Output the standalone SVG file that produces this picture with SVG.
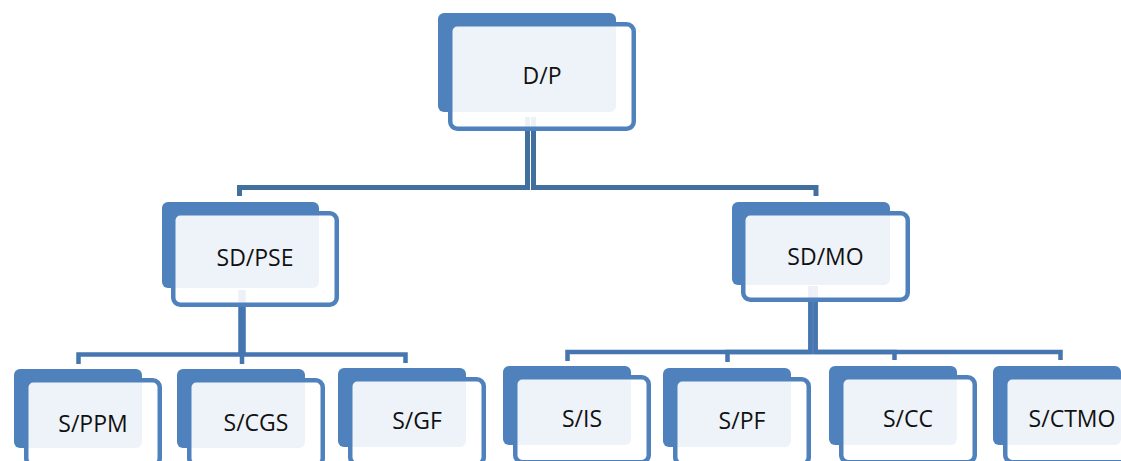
<svg xmlns="http://www.w3.org/2000/svg" width="1121" height="461" viewBox="0 0 1121 461">
<style>
.back{fill:#4F81BD}
.front{fill:#FFFFFF;fill-opacity:0.9;stroke:#4F81BD;stroke-width:4.5}
.lbl{font-family:"Open Sans","Noto Sans",sans-serif;font-size:23px;fill:#111;text-anchor:middle}
.c1{fill:none;stroke:#41709F;stroke-width:5}
.c2{fill:none;stroke:#4676B0;stroke-width:4.5}
</style>
<rect width="1121" height="461" fill="#FFFFFF"/>
<g id="connectors">
<path class="c1" d="M527.5 117 V187.5 H239.5 V196"/>
<path class="c1" d="M533.5 117 V187.5 H816 V196"/>
<path class="c2" d="M240.5 290 V354.5 H78.5 V364"/>
<path class="c2" d="M242 290 V364"/>
<path class="c2" d="M243.5 290 V354.5 H405.5 V363"/>
<path class="c2" d="M810.5 286 V352 H567.5 V361"/>
<path class="c2" d="M810.5 286 V352 H727.5 V362"/>
<path class="c2" d="M815.5 286 V352 H894.5 V360"/>
<path class="c2" d="M815.5 286 V352 H1060.5 V360"/>
</g>
<g id="node-dp">
<rect class="back" x="438" y="13" width="178" height="99" rx="6"/>
<rect class="front" x="450.25" y="24.25" width="183.5" height="104.5" rx="7"/>
<text class="lbl" x="542" y="84">D/P</text>
</g>
<g id="node-sdpse">
<rect class="back" x="162" y="202" width="157" height="86" rx="6"/>
<rect class="front" x="173.25" y="213.25" width="163.5" height="91.5" rx="7"/>
<text class="lbl" x="255" y="266">SD/PSE</text>
</g>
<g id="node-sdmo">
<rect class="back" x="732" y="202" width="158" height="83" rx="6"/>
<rect class="front" x="743.25" y="213.25" width="164.5" height="86.5" rx="7"/>
<text class="lbl" x="825.5" y="265">SD/MO</text>
</g>
<g id="node-sppm">
<rect class="back" x="14" y="369" width="128" height="79" rx="6"/>
<rect class="front" x="26.25" y="380.25" width="133.5" height="85" rx="7"/>
<text class="lbl" x="93" y="432">S/PPM</text>
</g>
<g id="node-scgs">
<rect class="back" x="177" y="369" width="128" height="79" rx="6"/>
<rect class="front" x="189.25" y="380.25" width="133.5" height="85" rx="7"/>
<text class="lbl" x="256" y="431">S/CGS</text>
</g>
<g id="node-sgf">
<rect class="back" x="338" y="368" width="128" height="79" rx="6"/>
<rect class="front" x="350.25" y="379.25" width="133.5" height="85" rx="7"/>
<text class="lbl" x="417" y="429">S/GF</text>
</g>
<g id="node-sis">
<rect class="back" x="503" y="366" width="128" height="79" rx="6"/>
<rect class="front" x="515.25" y="377.25" width="133.5" height="85" rx="7"/>
<text class="lbl" x="582" y="427">S/IS</text>
</g>
<g id="node-spf">
<rect class="back" x="663" y="368" width="128" height="79" rx="6"/>
<rect class="front" x="675.25" y="379.25" width="133.5" height="85" rx="7"/>
<text class="lbl" x="742" y="429">S/PF</text>
</g>
<g id="node-scc">
<rect class="back" x="829" y="366" width="128" height="79" rx="6"/>
<rect class="front" x="841.25" y="377.25" width="133.5" height="85" rx="7"/>
<text class="lbl" x="908" y="427">S/CC</text>
</g>
<g id="node-sctmo">
<rect class="back" x="993" y="366" width="128" height="79" rx="6"/>
<rect class="front" x="1005.25" y="377.25" width="133.5" height="85" rx="7"/>
<text class="lbl" x="1072" y="427">S/CTMO</text>
</g>
</svg>
